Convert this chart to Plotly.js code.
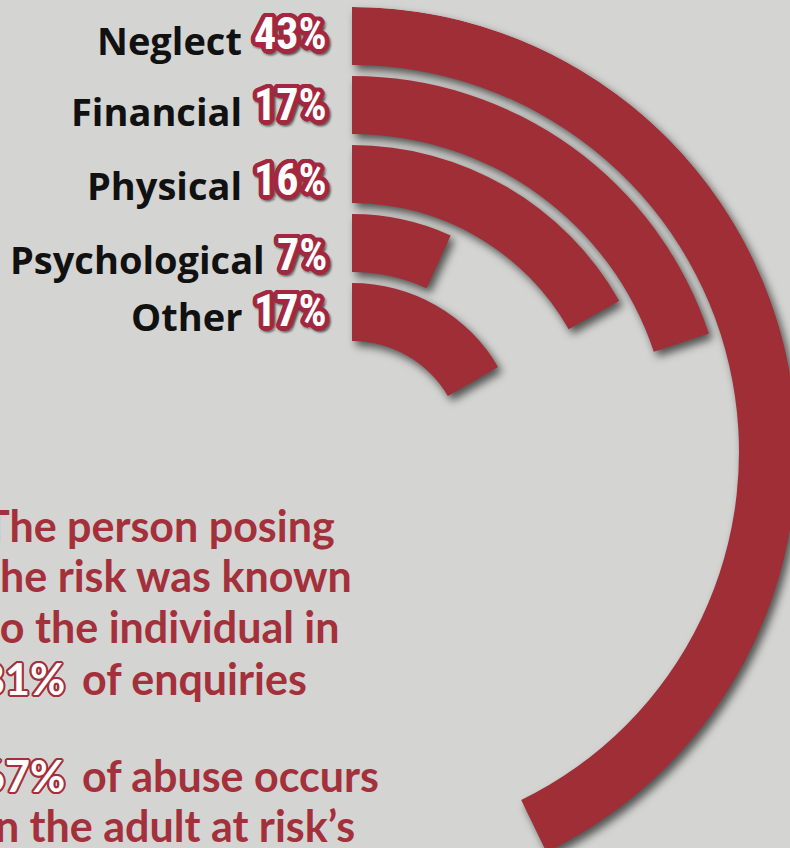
<!DOCTYPE html>
<html><head><meta charset="utf-8">
<script src="https://cdn.plot.ly/plotly-3.0.1.min.js"></script>
<style>
html,body{margin:0;padding:0;overflow:hidden;background:#d4d4d2;}
#chart{width:800px;height:900px;}
.polarlayer{filter:drop-shadow(4px 5px 4px rgba(0,0,0,0.62));}
</style></head><body><div id="chart"></div>
<script>
// ---- data ----
const categories = ["Neglect", "Financial", "Physical", "Psychological", "Other"];
const labelPct = [43, 17, 16, 7, 17];            // printed percentages
const arcShare = [42.8, 19.9, 16.8, 6.8, 16.6];  // arc sweep (% of full circle)
const noteA = ["The person posing", "the risk was known", "to the individual in"];
const noteAPct = "81%";
const noteARest = "of enquiries";
const noteBPct = "67%";
const noteBRest = "of abuse occurs";
const noteB = ["in the adult at risk\u2019s"];

// ---- layout constants ----
const W = 800, H = 900;
const CX = 352, CY = 452, R = 445;
const THICK = 58, PITCH = 69;
const RED = "#a02e36", CRIMSON = "#a3283f", TXTRED = "#a3303a";
const px = v => v / W, py = v => 1 - v / H;

const ctx = document.createElement("canvas").getContext("2d");
function textW(font, t) { ctx.font = font; return ctx.measureText(t).width; }
function hasFont(f) {
  const s = "43%Wmli";
  return textW(`bold 40px '${f}', monospace`, s) !== textW("bold 40px monospace", s) ||
         textW(`bold 40px '${f}', serif`, s) !== textW("bold 40px serif", s);
}
const condCandidates = ["Liberation Sans Narrow", "Arial Narrow", "Roboto Condensed", "Noto Sans Condensed",
  "Open Sans Condensed", "DejaVu Sans Condensed"];
const PCT_FAMILY = condCandidates.find(hasFont) || "DejaVu Sans";
const pctSize = 44;

function ring(color, r, n, dx, dy, blur) {
  const s = [];
  for (let i = 0; i < n; i++) {
    const a = 2 * Math.PI * i / n;
    s.push(`${(dx + r * Math.cos(a)).toFixed(2)}px ${(dy + r * Math.sin(a)).toFixed(2)}px ${blur}px ${color}`);
  }
  return s;
}
const pctShadow = [].concat(ring(CRIMSON, 4.5, 24, 0, 0, 0), ring(CRIMSON, 2.5, 12, 0, 0, 0),
  ring("rgba(0,0,0,0.25)", 5, 12, 1.5, 2, 2)).join(", ");
const noteShadow = [].concat(ring(TXTRED, 2, 16, 0, 0, 0), ring(TXTRED, 1, 8, 0, 0, 0)).join(", ");

const PCT_FONT = {family: PCT_FAMILY, size: pctSize, weight: 700, color: "#ffffff", shadow: pctShadow};
const NAME_FONT = {family: "Open Sans", size: 38, weight: 700, color: "#111111"};
const NOTE_SIZE = 43;
const NOTE_FONT = {family: "Lato", size: NOTE_SIZE, weight: 700, color: TXTRED};
const NOTE_PCT_FONT = Object.assign({}, NOTE_FONT, {color: "#ffffff", shadow: noteShadow});

const bases = categories.map((c, i) => R - THICK - i * PITCH);
const trace = {
  type: "barpolar",
  r: categories.map(() => THICK),
  base: bases,
  theta: arcShare.map(v => v * 3.6 / 2),
  width: arcShare.map(v => v * 3.6),
  marker: {color: RED, line: {width: 0}},
  hoverinfo: "skip"
};

const ann = (text, x, y, xanchor, font) => ({text, xref: "paper", yref: "paper", x: px(x), y: py(y),
  xanchor, yanchor: "middle", showarrow: false, font});
const annotations = [];
const pctY = [34, 105, 180, 255, 311];
const nameY = [40, 111, 185, 259, 316];
const PCT_RIGHT = 329;
categories.forEach((c, i) => {
  const t = labelPct[i] + "%";
  const w = textW(`bold ${pctSize}px '${PCT_FAMILY}'`, t);
  annotations.push(ann(t, PCT_RIGHT, pctY[i], "right", PCT_FONT));
  annotations.push(ann(c, PCT_RIGHT - w - 12, nameY[i], "right", NAME_FONT));
});
const NOTE_X = -18;
const PCT_NOTE_RIGHT = 67;
const REST_X = 80;
const noteAY = [525, 575, 626, 678];
const noteBY = [775, 825];
noteA.forEach((t, i) => annotations.push(ann(t, NOTE_X, noteAY[i], "left", NOTE_FONT)));
annotations.push(ann(noteAPct, PCT_NOTE_RIGHT, noteAY[3], "right", NOTE_PCT_FONT));
annotations.push(ann(noteARest, REST_X, noteAY[3], "left", NOTE_FONT));
annotations.push(ann(noteBPct, PCT_NOTE_RIGHT, noteBY[0], "right", NOTE_PCT_FONT));
annotations.push(ann(noteBRest, REST_X, noteBY[0], "left", NOTE_FONT));
noteB.forEach((t, i) => annotations.push(ann(t, NOTE_X, noteBY[i + 1], "left", NOTE_FONT)));

const layout = {
  width: W, height: H,
  margin: {l: 0, r: 0, t: 0, b: 0},
  paper_bgcolor: "#d4d4d2",
  showlegend: false,
  polar: {
    domain: {x: [px(CX), px(CX + R)], y: [py(CY + R), py(CY - R)]},
    sector: [-90, 90],
    hole: 0,
    barmode: "overlay",
    bgcolor: "rgba(0,0,0,0)",
    radialaxis: {visible: false, range: [0, R], showgrid: false},
    angularaxis: {visible: false, rotation: 90, direction: "clockwise", showgrid: false}
  },
  annotations: annotations
};
Plotly.newPlot("chart", [trace], layout, {displayModeBar: false, staticPlot: true});
</script></body></html>
